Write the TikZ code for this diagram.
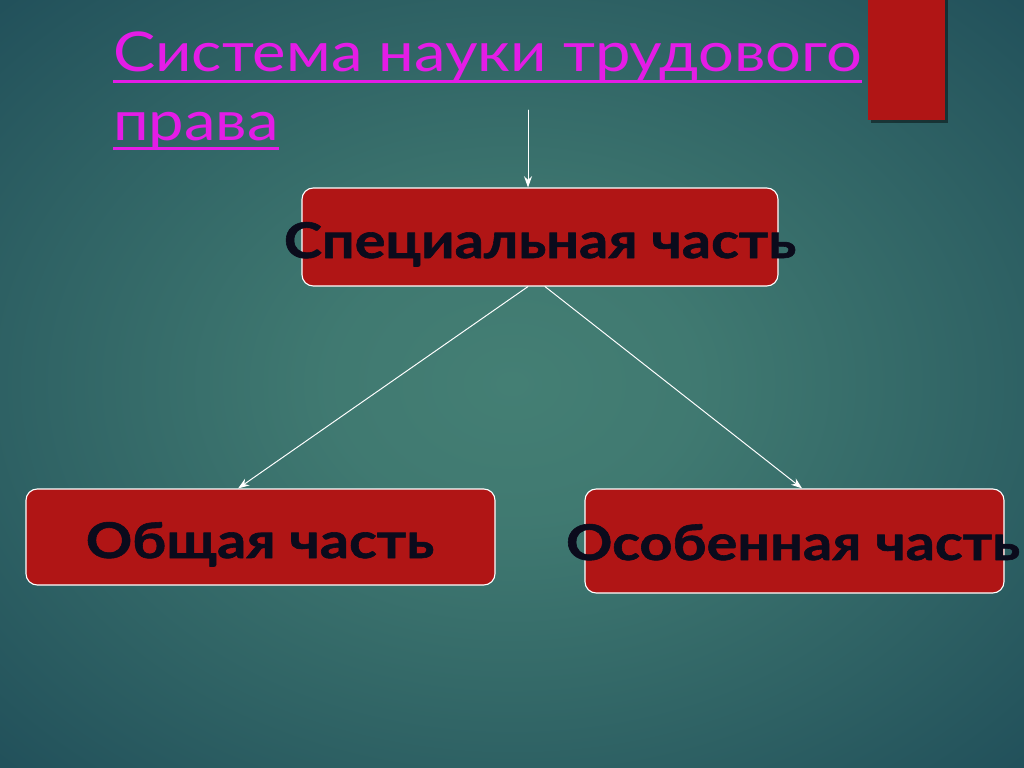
\documentclass[tikz,border=0pt]{standalone}
\usepackage{fontspec}
\setmainfont{Lato}
\newfontfamily\titlefont{Lato}[FakeStretch=1.155]
\newfontfamily\partfont{Lato}[FakeStretch=1.17, BoldFeatures={FakeBold=1.2}]
\usetikzlibrary{positioning, arrows.meta}
\definecolor{bginner}{HTML}{447F74}
\definecolor{bgouter}{HTML}{1A4655}
\definecolor{bgcorner}{HTML}{123A48}
\definecolor{boxred}{HTML}{B01515}
\definecolor{titlepink}{HTML}{E41CE6}
\definecolor{inkdark}{HTML}{0B0B1C}
\pgfdeclareradialshading{bgglow}{\pgfpoint{0bp}{0bp}}{color(0bp)=(bginner); color(9bp)=(bginner!90!bgouter); color(24bp)=(bginner!50!bgouter); color(42bp)=(bgouter); color(72bp)=(bgcorner)}
\tikzset{
  partbox/.style={draw=white, line width=0.8pt, fill=boxred, rounded corners=8pt, inner sep=0pt},
  parttext/.style={font=\partfont\fontsize{35}{40}\selectfont\bfseries, text=inkdark, anchor=base, inner sep=0pt},
  titletext/.style={font=\titlefont\fontsize{39}{44}\selectfont, text=titlepink, anchor=base west, inner sep=0pt},
  link/.style={->, white, line width=0.7pt}
}
\begin{document}
\begin{tikzpicture}[x=0.25mm, y=-0.25mm, line join=round, line cap=round, >={Stealth[length=2.8mm, width=2mm]}]
  \useasboundingbox (0,0) rectangle (1024,767);
  \shade[shading=bgglow] (0,0) rectangle (1024,767);
  % red tab in the corner
  \fill[black, opacity=0.45] (871,0) rectangle (948,123);
  \fill[boxred] (868,0) rectangle (945,120);
  % title
  \node[titletext] (title1) at (113,72) {Система науки трудового};
  \node[titletext] (title2) at (113,140) {права};
  \draw[titlepink, line width=2pt, line cap=butt] ([yshift=-6.5pt]title1.base west) -- ([yshift=-6.5pt]title1.base east);
  \draw[titlepink, line width=2pt, line cap=butt] ([yshift=-6pt]title2.base west) -- ([yshift=-6pt]title2.base east);
  % boxes
  \node[partbox, minimum width=476*0.25mm, minimum height=98*0.25mm] (spec) at (540,237) {};
  \node[partbox, minimum width=469*0.25mm, minimum height=96*0.25mm] (gen) at (260.5,537) {};
  \node[partbox, minimum width=419*0.25mm, minimum height=104*0.25mm] (spc) at (794.5,541) {};
  \node[parttext] (spectext) at (540,258) {Специальная часть};
  \node[parttext] (gentext) at (260,558) {Общая часть};
  \node[parttext] (spctext) at (793,560) {Особенная часть};
  % arrows
  \coordinate (top) at (528,110);
  \draw[link] (top) -- (top |- spec.north);
  \draw[link] ([xshift=-3mm]spec.south) -- ([xshift=-5.6mm]gen.north);
  \draw[link] ([xshift=1.25mm]spec.south) -- ([xshift=1.9mm]spc.north);
\end{tikzpicture}
\end{document}
